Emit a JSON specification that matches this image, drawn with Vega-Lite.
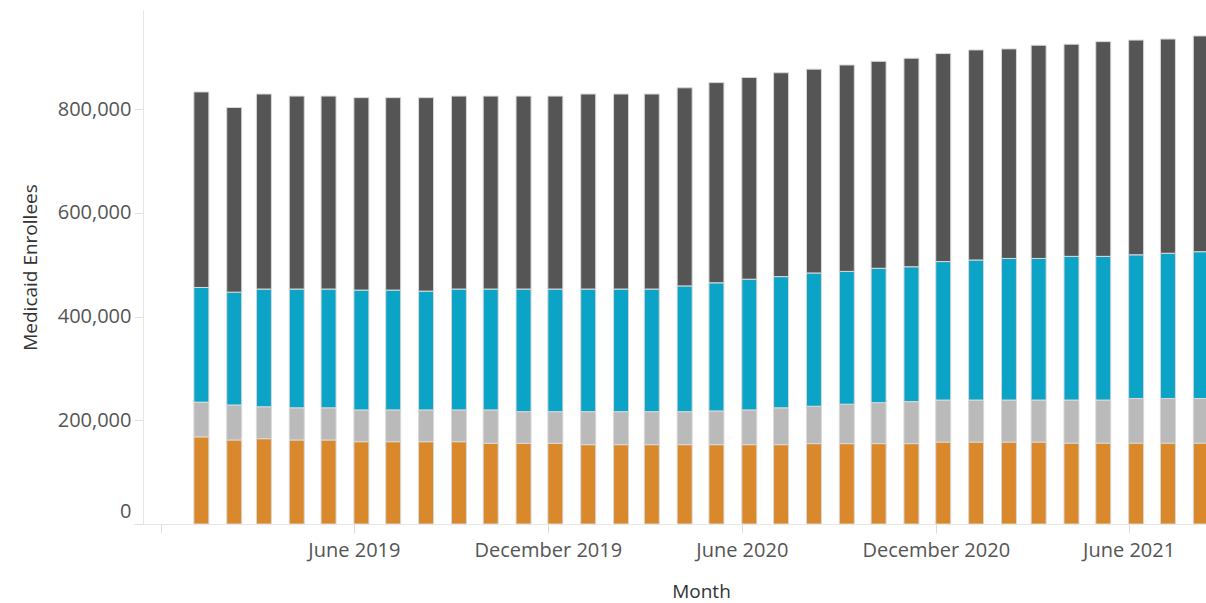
{
  "$schema": "https://vega.github.io/schema/vega-lite/v6.json",
  "width": 1063,
  "height": 514,
  "autosize": "none",
  "padding": {"left": 143, "top": 10, "right": 0, "bottom": 79},
  "background": "white",
  "config": {"view": {"stroke": null}, "font": "Open Sans"},
  "data": {
    "values": [
      {"month": "2019-01-01", "A": 168000, "B": 67000, "C": 221000, "D": 377000},
      {"month": "2019-02-01", "A": 162000, "B": 67500, "C": 217500, "D": 356000},
      {"month": "2019-03-01", "A": 164500, "B": 61500, "C": 227000, "D": 376000},
      {"month": "2019-04-01", "A": 162000, "B": 62000, "C": 229000, "D": 372000},
      {"month": "2019-05-01", "A": 162000, "B": 62000, "C": 229000, "D": 372000},
      {"month": "2019-06-01", "A": 158700, "B": 61300, "C": 231000, "D": 371000},
      {"month": "2019-07-01", "A": 158700, "B": 61300, "C": 231000, "D": 371000},
      {"month": "2019-08-01", "A": 158700, "B": 61300, "C": 229000, "D": 373000},
      {"month": "2019-09-01", "A": 158700, "B": 61300, "C": 233000, "D": 372000},
      {"month": "2019-10-01", "A": 155600, "B": 64400, "C": 233000, "D": 372000},
      {"month": "2019-11-01", "A": 155600, "B": 61000, "C": 236400, "D": 372000},
      {"month": "2019-12-01", "A": 155600, "B": 61000, "C": 236400, "D": 372000},
      {"month": "2020-01-01", "A": 153000, "B": 63600, "C": 236400, "D": 376000},
      {"month": "2020-02-01", "A": 153000, "B": 63600, "C": 236400, "D": 376000},
      {"month": "2020-03-01", "A": 153000, "B": 63600, "C": 236400, "D": 376000},
      {"month": "2020-04-01", "A": 153000, "B": 63600, "C": 242400, "D": 382000},
      {"month": "2020-05-01", "A": 153000, "B": 65000, "C": 247000, "D": 386000},
      {"month": "2020-06-01", "A": 153000, "B": 67000, "C": 252000, "D": 389000},
      {"month": "2020-07-01", "A": 153000, "B": 71000, "C": 253000, "D": 393000},
      {"month": "2020-08-01", "A": 155000, "B": 72000, "C": 257000, "D": 393000},
      {"month": "2020-09-01", "A": 155000, "B": 76000, "C": 256000, "D": 398000},
      {"month": "2020-10-01", "A": 155000, "B": 79000, "C": 259000, "D": 399000},
      {"month": "2020-11-01", "A": 155000, "B": 81000, "C": 260000, "D": 402000},
      {"month": "2020-12-01", "A": 158000, "B": 81000, "C": 267000, "D": 401000},
      {"month": "2021-01-01", "A": 158000, "B": 81000, "C": 270000, "D": 405000},
      {"month": "2021-02-01", "A": 158000, "B": 81000, "C": 273000, "D": 404000},
      {"month": "2021-03-01", "A": 158000, "B": 81000, "C": 273000, "D": 411000},
      {"month": "2021-04-01", "A": 156000, "B": 83000, "C": 277000, "D": 409000},
      {"month": "2021-05-01", "A": 156000, "B": 83000, "C": 277000, "D": 414000},
      {"month": "2021-06-01", "A": 156000, "B": 86000, "C": 277000, "D": 414000},
      {"month": "2021-07-01", "A": 156000, "B": 86000, "C": 280000, "D": 413000},
      {"month": "2021-08-01", "A": 156000, "B": 86000, "C": 283000, "D": 416000}
    ]
  },
  "transform": [{"fold": ["A", "B", "C", "D"], "as": ["group", "enrollees"]}],
  "mark": {"type": "bar", "width": 15, "xOffset": 7.5, "stroke": "#d9d9d9", "strokeWidth": 1, "clip": true},
  "encoding": {
    "x": {
      "field": "month",
      "type": "temporal",
      "title": "Month",
      "scale": {
        "type": "utc",
        "padding": 0,
        "domain": [
          {"year": 2018, "month": 11, "date": 14, "utc": true},
          {"year": 2021, "month": 8, "date": 13, "utc": true}
        ]
      },
      "axis": {
        "values": [
          {"year": 2018, "month": 12, "date": 1, "utc": true},
          {"year": 2019, "month": 6, "date": 1, "utc": true},
          {"year": 2019, "month": 12, "date": 1, "utc": true},
          {"year": 2020, "month": 6, "date": 1, "utc": true},
          {"year": 2020, "month": 12, "date": 1, "utc": true},
          {"year": 2021, "month": 6, "date": 1, "utc": true}
        ],
        "labelExpr": "utcyear(datum.value) == 2018 ? '' : utcFormat(datum.value, '%B %Y')",
        "labelFontSize": 20,
        "labelColor": "#555555",
        "labelPadding": 7,
        "tickSize": 9,
        "tickColor": "#dcdcdc",
        "domainColor": "#e6e6e6",
        "grid": false,
        "titleFontSize": 19,
        "titleFontWeight": "normal",
        "titleColor": "#333333",
        "titlePadding": 22,
        "titleX": 558
      }
    },
    "y": {
      "field": "enrollees",
      "type": "quantitative",
      "stack": "zero",
      "title": "Medicaid Enrollees",
      "scale": {"domain": [0, 991000], "nice": false, "padding": 0},
      "axis": {
        "values": [0, 200000, 400000, 600000, 800000],
        "format": ",d",
        "labelFontSize": 20,
        "labelColor": "#555555",
        "labelPadding": 3,
        "labelFlush": true,
        "labelFlushOffset": -3,
        "tickSize": 9,
        "tickColor": "#e0e0e0",
        "domainColor": "#e6e6e6",
        "grid": false,
        "titleFontSize": 19,
        "titleFontWeight": "normal",
        "titleColor": "#333333",
        "titlePadding": 17
      }
    },
    "color": {
      "field": "group",
      "type": "nominal",
      "scale": {"domain": ["A", "B", "C", "D"], "range": ["#d9892b", "#bababa", "#0ba4c6", "#555555"]},
      "legend": null
    },
    "order": {"field": "group", "sort": "ascending"}
  }
}
